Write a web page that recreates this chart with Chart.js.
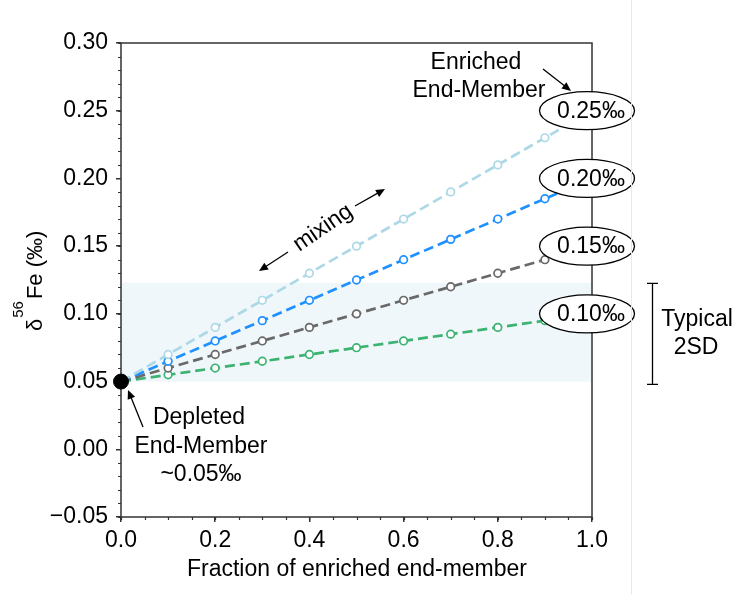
<!DOCTYPE html>
<html>
<head>
<meta charset="utf-8">
<script src="https://cdn.jsdelivr.net/npm/chart.js@4.4.1/dist/chart.umd.min.js"></script>
<style>
  body { margin: 0; background: #fff; }
</style>
</head>
<body>
<canvas id="mixChart" width="734" height="594"></canvas>
<script>
// data
const fractions = [0, 0.1, 0.2, 0.3, 0.4, 0.5, 0.6, 0.7, 0.8, 0.9, 1.0];
const fe025 = [0.05, 0.07, 0.09, 0.11, 0.13, 0.15, 0.17, 0.19, 0.21, 0.23, 0.25];
const fe020 = [0.05, 0.065, 0.08, 0.095, 0.11, 0.125, 0.14, 0.155, 0.17, 0.185, 0.20];
const fe015 = [0.05, 0.06, 0.07, 0.08, 0.09, 0.10, 0.11, 0.12, 0.13, 0.14, 0.15];
const fe010 = [0.05, 0.055, 0.06, 0.065, 0.07, 0.075, 0.08, 0.085, 0.09, 0.095, 0.10];
const endValues = [0.25, 0.20, 0.15, 0.10];
const endLabels = ['0.25‰', '0.20‰', '0.15‰', '0.10‰'];
const depletedX = [0];
const depletedY = [0.05];
const band2SD = [0.05, 0.123];
const bracket2SD = [0.048, 0.1225];

const xTickValues = [0, 0.2, 0.4, 0.6, 0.8, 1.0];
const xTickLabels = ['0.0', '0.2', '0.4', '0.6', '0.8', '1.0'];
const yTickValues = [-0.05, 0, 0.05, 0.10, 0.15, 0.20, 0.25, 0.30];
const yTickLabels = ['\u22120.05', '0.00', '0.05', '0.10', '0.15', '0.20', '0.25', '0.30'];

const FONT = '"Liberation Sans", Arial, sans-serif';
const INK = '#333';
const TXT = '23px ' + FONT;

const toPoints = (xs, ys) => xs.map((x, i) => ({x: x, y: ys[i]}));

const lineSet = function (vals, color) {
    return {
        data: toPoints(fractions, vals),
        showLine: true,
        borderColor: color,
        borderWidth: 2.7,
        borderDash: [10, 5],
        pointRadius: fractions.map((f, i) => (i === 0 || i === fractions.length - 1) ? 0 : 3.8),
        pointBorderWidth: 1.7,
        pointBorderColor: color,
        pointBackgroundColor: '#fff',
        order: 1
    };
};

const arrow = function (ctx, x1, y1, x2, y2) {
    const a = Math.atan2(y2 - y1, x2 - x1);
    const head = 9, half = 4;
    ctx.beginPath();
    ctx.moveTo(x1, y1);
    ctx.lineTo(x2 - head * 0.7 * Math.cos(a), y2 - head * 0.7 * Math.sin(a));
    ctx.stroke();
    ctx.beginPath();
    ctx.moveTo(x2, y2);
    ctx.lineTo(x2 - head * Math.cos(a) + half * Math.sin(a), y2 - head * Math.sin(a) - half * Math.cos(a));
    ctx.lineTo(x2 - head * Math.cos(a) - half * Math.sin(a), y2 - head * Math.sin(a) + half * Math.cos(a));
    ctx.closePath();
    ctx.fill();
};

// band, frame, minor ticks, then annotations on top
const decor = {
    id: 'decor',
    beforeDatasetsDraw(chart) {
        const {ctx, chartArea: a, scales: {x, y}} = chart;
        ctx.save();
        const top = y.getPixelForValue(band2SD[1]);
        const bot = y.getPixelForValue(band2SD[0]);
        ctx.fillStyle = 'rgba(173, 216, 230, 0.2)';
        ctx.fillRect(a.left, top, a.right - a.left, bot - top);

        ctx.strokeStyle = INK;
        ctx.lineWidth = 1.5;
        ctx.strokeRect(a.left, a.top, a.right - a.left, a.bottom - a.top);

        // minor ticks
        ctx.lineWidth = 1.2;
        ctx.beginPath();
        for (let v = -0.05; v <= 0.3001; v += 0.01) {
            const py = Math.round(y.getPixelForValue(v)) + 0.5;
            ctx.moveTo(a.left, py);
            ctx.lineTo(a.left - 3, py);
        }
        for (let v = 0; v <= 1.0001; v += 0.05) {
            const px = Math.round(x.getPixelForValue(v)) + 0.5;
            ctx.moveTo(px, a.bottom);
            ctx.lineTo(px, a.bottom + 3);
        }
        ctx.stroke();
        ctx.restore();
    },
    afterDatasetsDraw(chart) {
        const {ctx, scales: {x, y}} = chart;
        ctx.save();
        ctx.fillStyle = '#000';
        ctx.strokeStyle = '#000';
        ctx.textAlign = 'center';
        ctx.textBaseline = 'middle';

        // end-member ellipses
        endValues.forEach((v, i) => {
            const cx = x.getPixelForValue(1);
            const cy = y.getPixelForValue(v);
            ctx.beginPath();
            ctx.ellipse(cx - 5, cy, 47.5, 19, 0, 0, Math.PI * 2);
            ctx.fillStyle = '#fff';
            ctx.fill();
            ctx.lineWidth = 1.3;
            ctx.stroke();
            ctx.fillStyle = '#000';
            ctx.font = TXT;
            ctx.fillText(endLabels[i], cx - 1, cy + 1);
        });

        ctx.font = TXT;
        ctx.lineWidth = 1.3;

        // enriched end-member
        ctx.fillText('Enriched', 476, 63);
        ctx.fillText('End-Member', 479, 91);
        arrow(ctx, 543, 69, 571, 91);

        // depleted end-member
        ctx.fillText('Depleted', 199, 418);
        ctx.fillText('End-Member', 201, 447);
        ctx.fillText('~0.05‰', 201, 475);
        arrow(ctx, 143, 427, 128, 390);

        // mixing
        ctx.save();
        ctx.translate(323, 228);
        ctx.rotate(-34.5 * Math.PI / 180);
        ctx.fillText('mixing', 0, 0);
        ctx.restore();
        arrow(ctx, 288, 252, 259, 271);
        arrow(ctx, 355, 206, 385, 189);

        // typical 2SD bracket
        const b1 = y.getPixelForValue(bracket2SD[1]);
        const b0 = y.getPixelForValue(bracket2SD[0]);
        ctx.beginPath();
        ctx.moveTo(652.5, b1); ctx.lineTo(652.5, b0);
        ctx.moveTo(647, b1); ctx.lineTo(658, b1);
        ctx.moveTo(647, b0); ctx.lineTo(658, b0);
        ctx.stroke();
        ctx.fillText('Typical', 697, 320);
        ctx.fillText('2SD', 696, 348);

        // x title
        ctx.fillText('Fraction of enriched end-member', 357, 570);

        // y title with superscript
        ctx.save();
        ctx.translate(42, 331);
        ctx.rotate(-Math.PI / 2);
        ctx.textAlign = 'left';
        ctx.textBaseline = 'alphabetic';
        ctx.font = '22px ' + FONT;
        ctx.fillText('\u03b4', 0, 0);
        let w = ctx.measureText('\u03b4').width + 1;
        ctx.font = '15px ' + FONT;
        ctx.fillText('56', w, -19);
        w += ctx.measureText('56').width + 2;
        ctx.font = '22px ' + FONT;
        ctx.fillText('Fe (‰)', w, 0);
        ctx.restore();

        // faint figure edge
        ctx.strokeStyle = '#e8e8e8';
        ctx.lineWidth = 1;
        ctx.beginPath();
        ctx.moveTo(631.5, 0); ctx.lineTo(631.5, 594);
        ctx.stroke();
        ctx.restore();
    }
};

Chart.defaults.font.family = FONT;
Chart.defaults.color = '#000';

const ctx = document.getElementById('mixChart').getContext('2d');
new Chart(ctx, {
    type: 'scatter',
    data: {
        datasets: [
            {
                data: toPoints(depletedX, depletedY),
                pointRadius: 7.5,
                pointBackgroundColor: '#000',
                pointBorderColor: '#000',
                showLine: false,
                clip: false,
                order: 0
            },
            lineSet(fe025, '#add8e6'),
            lineSet(fe020, '#1e90ff'),
            lineSet(fe015, '#696969'),
            lineSet(fe010, '#3cb371')
        ]
    },
    options: {
        responsive: false,
        animation: false,
        layout: {padding: {left: 0, top: 43, right: 142, bottom: 0}},
        plugins: {legend: {display: false}, tooltip: {enabled: false}},
        scales: {
            x: {
                type: 'linear',
                min: 0,
                max: 1,
                afterBuildTicks: (s) => { s.ticks = xTickValues.map(v => ({value: v})); },
                afterFit: (s) => { s.height = 77; },
                border: {display: false},
                grid: {drawOnChartArea: false, drawTicks: true, tickLength: 5, color: INK, lineWidth: 1.5},
                ticks: {padding: 5, font: {size: 23}, maxRotation: 0, callback: (v, i) => xTickLabels[i]}
            },
            y: {
                type: 'linear',
                min: -0.05,
                max: 0.30,
                afterBuildTicks: (s) => { s.ticks = yTickValues.map(v => ({value: v})); },
                afterFit: (s) => { s.width = 121; },
                border: {display: false},
                grid: {drawOnChartArea: false, drawTicks: true, tickLength: 5, color: INK, lineWidth: 1.5},
                ticks: {padding: 8, font: {size: 23}, callback: (v, i) => yTickLabels[i]}
            }
        }
    },
    plugins: [decor]
});
</script>
</body>
</html>
